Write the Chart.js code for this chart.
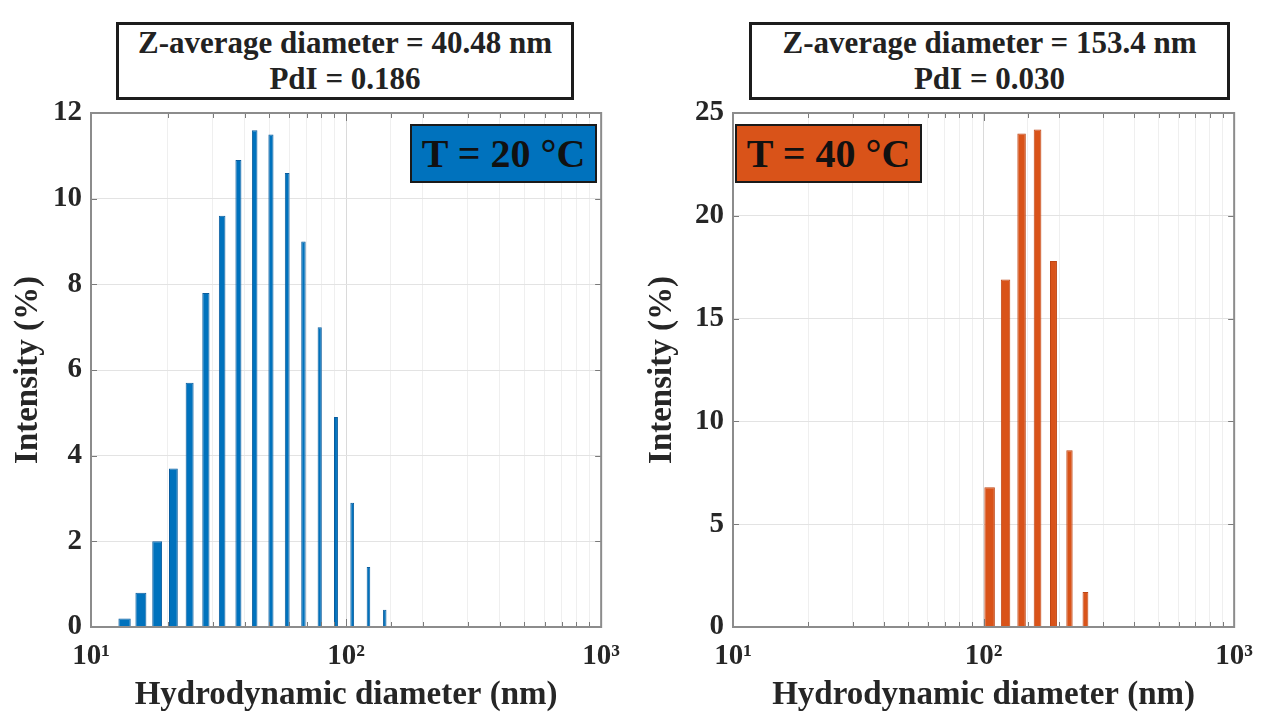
<!DOCTYPE html>
<html><head><meta charset="utf-8">
<script src="https://cdn.jsdelivr.net/npm/chart.js@4.4.1/dist/chart.umd.min.js"></script>
<style>
html,body{margin:0;padding:0;background:#fff;}
body{width:1265px;height:716px;overflow:hidden;position:relative;font-family:"Liberation Serif","Times New Roman",serif;}
canvas{position:absolute;top:0;}
.box{position:absolute;top:22px;height:78px;border:3px solid #1c1c1c;background:#fff;text-align:center;font-weight:bold;font-size:31px;line-height:36px;color:#222;box-sizing:border-box;}
.tag{position:absolute;top:124px;height:59px;width:187px;border:2px solid #1a1a1a;box-sizing:border-box;font-weight:bold;font-size:40px;line-height:55px;text-align:center;color:#111;white-space:nowrap;}
</style></head><body>
<canvas id="c1" width="632" height="716" style="left:0"></canvas>
<canvas id="c2" width="633" height="716" style="left:632px"></canvas>
<div class="box" style="left:116px;width:458px">Z-average diameter = 40.48 nm<br>PdI = 0.186</div>
<div class="box" style="left:749px;width:481px">Z-average diameter = 153.4 nm<br>PdI = 0.030</div>
<div class="tag" style="left:410px;background:#0072BD">T = 20 °C</div>
<div class="tag" style="left:735px;background:#D95319">T = 40 °C</div>
<script>
// ---- data ----
const diam20 = [13.54,15.69,18.17,21.04,24.36,28.21,32.67,37.84,43.82,50.75,58.77,68.06,78.82,91.28,105.7,122.4,141.8];
const int20  = [0.2,0.8,2.0,3.7,5.7,7.8,9.6,10.9,11.6,11.5,10.6,9.0,7.0,4.9,2.9,1.4,0.4];
const diam40 = [105.7,122.4,141.8,164.2,190.1,220.2,255.0];
const int40  = [6.8,16.9,24.0,24.2,17.8,8.6,1.7];
const xTickLabels = {1:'10¹', 2:'10²', 3:'10³'};
const xTitle = 'Hydrodynamic diameter (nm)';
const yTitle = 'Intensity (%)';

// ---- bars with constant linear width on a log axis (like MATLAB) ----
const EDGE = 2.5;
const BarCtl = Chart.BarController || Chart.registry.getController('bar');
const origCalc = BarCtl.prototype._calculateBarIndexPixels;
BarCtl.prototype._calculateBarIndexPixels = function(index, ruler, opts) {
  const r = origCalc.call(this, index, ruler, opts);
  const ds = this.getDataset();
  if (!ds.linWidth) return r;
  const s = this._cachedMeta.iScale;
  const d = this.getParsed(index)[s.axis];
  const size = Math.abs(s.getPixelForValue(d + ds.linWidth/2) - s.getPixelForValue(d - ds.linWidth/2)) + EDGE;
  return {base: r.center - size/2, head: r.center + size/2, center: r.center, size: size};
};

const FONT = '"Liberation Serif","Times New Roman",serif';
const TXT = '#262626';
function pow10(v){ const l = Math.log10(v); return Math.abs(l - Math.round(l)) < 1e-6; }

const frame = {
  id: 'frame',
  afterDraw(chart) {
    const {ctx, chartArea: a, scales: {x, y}} = chart;
    ctx.save();
    ctx.strokeStyle = '#7a7a7a';
    ctx.lineWidth = 1;
    ctx.beginPath();
    x.ticks.forEach(t => {
      const px = Math.round(x.getPixelForValue(t.value)) + 0.5;
      const L = pow10(t.value) ? 8 : 5;
      ctx.moveTo(px, a.bottom); ctx.lineTo(px, a.bottom - L);
      ctx.moveTo(px, a.top); ctx.lineTo(px, a.top + L);
    });
    y.ticks.forEach(t => {
      const py = Math.round(y.getPixelForValue(t.value)) + 0.5;
      ctx.moveTo(a.left, py); ctx.lineTo(a.left + 6, py);
      ctx.moveTo(a.right, py); ctx.lineTo(a.right - 6, py);
    });
    ctx.stroke();
    ctx.strokeStyle = '#8c8c8c';
    ctx.lineWidth = 2;
    ctx.strokeRect(a.left, a.top, a.right - a.left, a.bottom - a.top);
    ctx.restore();
  }
};

function makeChart(id, diam, vals, color, edgeColor, linWidth, ymax, ystep, yWidth, titleOff, padRight) {
  return new Chart(document.getElementById(id), {
    type: 'bar',
    data: { datasets: [{
      data: diam.map((d, i) => ({x: d, y: vals[i]})),
      backgroundColor: color, borderColor: edgeColor, borderWidth: 1,
      linWidth: linWidth, grouped: false
    }]},
    options: {
      responsive: false, animation: false, devicePixelRatio: 1,
      layout: { padding: {top: 113, right: padRight, left: 0, bottom: 0} },
      plugins: { legend: {display: false}, tooltip: {enabled: false} },
      scales: {
        x: {
          type: 'logarithmic', min: 10, max: 1000, offset: false,
          grid: { offset: false, drawTicks: false, color: c => (c.tick && pow10(c.tick.value)) ? '#dadada' : '#efefef', lineWidth: 1 },
          border: { display: false },
          ticks: { autoSkip: false, maxRotation: 0, padding: 12, color: TXT,
            font: {family: FONT, size: 29, weight: 'bold'},
            callback: v => pow10(v) ? xTickLabels[Math.round(Math.log10(v))] : '' },
          title: { display: true, text: xTitle, color: TXT, padding: {top: 0, bottom: 1},
            font: {family: FONT, size: 33, weight: 'bold', lineHeight: 1.2} },
          afterFit: s => { s.height = 89; }
        },
        y: {
          min: 0, max: ymax,
          grid: { drawTicks: false, color: '#e3e3e3', lineWidth: 1 },
          border: { display: false },
          ticks: { stepSize: ystep, padding: 9, color: TXT,
            font: {family: FONT, size: 29, weight: 'bold'} },
          title: { display: true, text: yTitle, color: TXT, padding: {top: titleOff, bottom: 0},
            font: {family: FONT, size: 33, weight: 'bold', lineHeight: 1.2} },
          afterFit: s => { s.width = yWidth; }
        }
      }
    },
    plugins: [frame]
  });
}

makeChart('c1', diam20, int20, '#0072BD', '#0b5d9e', 1.2, 12, 2, 91, 9, 24);
makeChart('c2', diam40, int40, '#D95319', '#bf4614', 7.8, 25, 5, 101, 11, 22);
</script>
</body></html>
